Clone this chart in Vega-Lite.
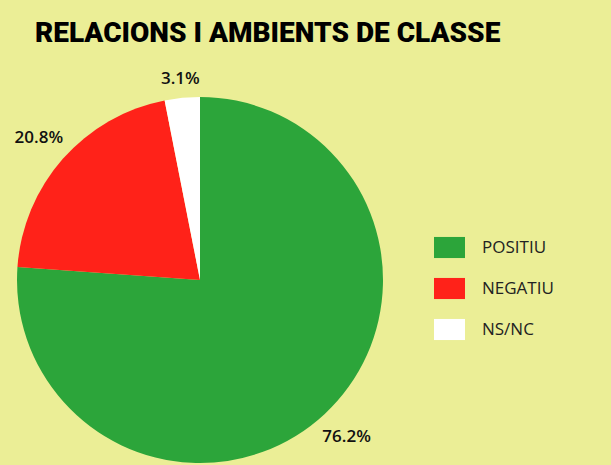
{
  "$schema": "https://vega.github.io/schema/vega-lite/v6.json",
  "autosize": {"type": "none"},
  "width": 366,
  "height": 366,
  "padding": {"left": 17, "top": 97, "right": 228, "bottom": 2},
  "background": "#EBEE96",
  "title": {
    "text": "RELACIONS I AMBIENTS DE CLASSE",
    "anchor": "start",
    "frame": "group",
    "font": "Roboto",
    "fontSize": 28,
    "fontWeight": 900,
    "color": "#000000",
    "baseline": "alphabetic",
    "offset": 0,
    "dx": 18
  },
  "config": {"view": {"stroke": null}},
  "data": {
    "values": [
      {"categoria": "POSITIU", "valor": 76.2, "etiqueta": "76.2%", "ordre": 1},
      {"categoria": "NEGATIU", "valor": 20.8, "etiqueta": "20.8%", "ordre": 2},
      {"categoria": "NS/NC", "valor": 3.1, "etiqueta": "3.1%", "ordre": 3}
    ]
  },
  "encoding": {
    "theta": {"field": "valor", "type": "quantitative", "stack": true},
    "order": {"field": "ordre", "type": "quantitative"}
  },
  "layer": [
    {
      "mark": {"type": "arc", "outerRadius": 183},
      "encoding": {
        "color": {
          "field": "categoria",
          "type": "nominal",
          "scale": {"domain": ["POSITIU", "NEGATIU", "NS/NC"], "range": ["#2CA53A", "#FF2219", "#FFFFFF"]},
          "legend": {
            "title": null,
            "orient": "none",
            "legendX": 417,
            "legendY": 135,
            "symbolType": "M-1,-0.68H1V0.68H-1Z",
            "symbolSize": 961,
            "symbolStrokeWidth": 0,
            "symbolOpacity": 1,
            "labelFont": "Open Sans",
            "labelFontSize": 17,
            "labelColor": "#222222",
            "labelOffset": 17,
            "rowPadding": 14
          }
        }
      }
    },
    {
      "mark": {
        "type": "text",
        "radius": {"expr": "datum.ordre == 3 ? 202 : 215"},
        "font": "Open Sans",
        "fontSize": 17,
        "fontWeight": 600,
        "color": "#111111"
      },
      "encoding": {"text": {"field": "etiqueta", "type": "nominal"}}
    }
  ]
}
